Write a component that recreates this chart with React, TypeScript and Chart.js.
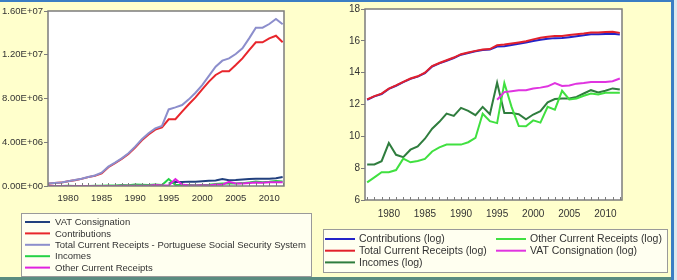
import React, { useEffect, useRef } from "react";
import { Chart, registerables } from "chart.js";

Chart.register(...registerables);

// Observation years (annual data)
const YEARS = [
  1977, 1978, 1979, 1980, 1981, 1982, 1983, 1984, 1985, 1986,
  1987, 1988, 1989, 1990, 1991, 1992, 1993, 1994, 1995, 1996,
  1997, 1998, 1999, 2000, 2001, 2002, 2003, 2004, 2005, 2006,
  2007, 2008, 2009, 2010, 2011, 2012,
];
const X_TICKS = [1980, 1985, 1990, 1995, 2000, 2005, 2010];

// Levels (left panel)
const LEVEL_VAT = [
  null, null, null, null, null, null, null, null, null, null,
  null, null, null, null, null, null, null, null, 220000, 355000,
  370000, 400000, 400000, 440000, 470000, 510000, 630000, 520000, 540000, 600000,
  630000, 670000, 670000, 670000, 700000, 830000,
];
const LEVEL_CONTRIB = [
  210000, 270000, 310000, 430000, 530000, 650000, 810000, 930000, 1160000, 1720000,
  2080000, 2480000, 2930000, 3520000, 4180000, 4720000, 5150000, 5350000, 6100000, 6100000,
  6800000, 7470000, 8100000, 8840000, 9540000, 10150000, 10500000, 10500000, 11060000, 11670000,
  12430000, 13140000, 13140000, 13500000, 13740000, 13140000,
];
const LEVEL_TOTAL = [
  220000, 280000, 320000, 440000, 540000, 670000, 830000, 960000, 1220000, 1770000,
  2130000, 2530000, 2990000, 3600000, 4270000, 4820000, 5270000, 5490000, 7000000, 7190000,
  7400000, 7920000, 8530000, 9230000, 10060000, 10900000, 11460000, 11670000, 12070000, 12590000,
  13500000, 14480000, 14480000, 14810000, 15270000, 14780000,
];
const LEVEL_INCOMES = [
  3750, 3750, 4630, 14500, 6900, 5940, 9500, 11750, 19000, 35600,
  54800, 92000, 79000, 132000, 109000, 83500, 140000, 88500, 640000, 96000,
  96000, 88500, 64000, 87000, 107000, 185000, 228000, 238000, 238000, 263000,
  325000, 400000, 348000, 385000, 446000, 416000,
];
const LEVEL_OTHER = [
  1224, 1670, 2300, 2300, 2640, 5430, 4320, 4680, 5320, 8500,
  11000, 13100, 13100, 13100, 15200, 20000, 91000, 57000, 50500, 628000,
  140000, 42000, 41000, 60000, 52000, 140000, 118000, 385000, 224000, 238000,
  282000, 325000, 306000, 341000, 341000, 341000,
];

// Natural logs (right panel)
const LOG_CONTRIB = [
  12.30, 12.51, 12.66, 12.98, 13.18, 13.40, 13.61, 13.75, 13.97, 14.39,
  14.58, 14.75, 14.92, 15.13, 15.24, 15.34, 15.43, 15.45, 15.64, 15.66,
  15.74, 15.82, 15.90, 15.99, 16.07, 16.13, 16.17, 16.18, 16.23, 16.29,
  16.35, 16.41, 16.41, 16.43, 16.45, 16.40,
];
const LOG_TOTAL = [
  12.32, 12.53, 12.68, 13.0, 13.2, 13.42, 13.63, 13.77, 14.0, 14.42,
  14.61, 14.78, 14.95, 15.16, 15.27, 15.37, 15.46, 15.48, 15.73, 15.77,
  15.83, 15.9, 15.98, 16.09, 16.19, 16.25, 16.3, 16.3, 16.36, 16.42,
  16.46, 16.53, 16.53, 16.55, 16.57, 16.5,
];
const LOG_INCOMES = [
  8.23, 8.23, 8.44, 9.58, 8.84, 8.69, 9.16, 9.37, 9.85, 10.48,
  10.91, 11.43, 11.28, 11.79, 11.6, 11.33, 11.85, 11.39, 13.37, 11.47,
  11.47, 11.39, 11.07, 11.37, 11.58, 12.13, 12.34, 12.38, 12.38, 12.48,
  12.69, 12.9, 12.76, 12.86, 13.01, 12.94,
];
const LOG_OTHER = [
  7.11, 7.42, 7.74, 7.74, 7.88, 8.6, 8.37, 8.45, 8.58, 9.05,
  9.31, 9.48, 9.48, 9.48, 9.63, 9.9, 11.42, 10.95, 10.83, 13.35,
  11.85, 10.65, 10.63, 11.0, 10.86, 11.85, 11.68, 12.86, 12.32, 12.38,
  12.55, 12.69, 12.63, 12.74, 12.74, 12.74,
];
const LOG_VAT = [
  null, null, null, null, null, null, null, null, null, null,
  null, null, null, null, null, null, null, null, 12.3, 12.78,
  12.83, 12.89, 12.89, 13.0, 13.06, 13.14, 13.35, 13.16, 13.2, 13.31,
  13.35, 13.42, 13.42, 13.42, 13.46, 13.63,
];

const LEVEL_Y_TICKS = [0, 4000000, 8000000, 12000000, 16000000];
const LOG_Y_TICKS = [6, 8, 10, 12, 14, 16, 18];

const PAGE_BG = "#FFFFCC";
const FONT = "'Liberation Sans', Arial, sans-serif";
const TEXT = "#333333";

type Series = { label: string; values: (number | null)[]; color: string };

const LEVEL_SERIES: Series[] = [
  { label: "VAT Consignation", values: LEVEL_VAT, color: "#22407E" },
  { label: "Contributions", values: LEVEL_CONTRIB, color: "#E8262C" },
  { label: "Total Current Receipts - Portuguese Social Security System", values: LEVEL_TOTAL, color: "#8C8ECC" },
  { label: "Incomes", values: LEVEL_INCOMES, color: "#24D246" },
  { label: "Other Current Receipts", values: LEVEL_OTHER, color: "#E022E0" },
];

const LOG_SERIES: Series[] = [
  { label: "Contributions (log)", values: LOG_CONTRIB, color: "#2424C8" },
  { label: "Total Current Receipts (log)", values: LOG_TOTAL, color: "#E2202C" },
  { label: "Incomes (log)", values: LOG_INCOMES, color: "#2F7D3E" },
  { label: "Other Current Receipts (log)", values: LOG_OTHER, color: "#40E040" },
  { label: "VAT Consignation (log)", values: LOG_VAT, color: "#E034E0" },
];

function sci(v: number): string {
  if (v === 0) return "0.00E+00";
  const e = Math.floor(Math.log10(Math.abs(v)));
  const m = v / Math.pow(10, e);
  return `${m.toFixed(2)}E+${String(e).padStart(2, "0")}`;
}

// White plot area, grey frame and yearly tick marks on the date axis
const plotFrame = {
  id: "plotFrame",
  beforeDraw(chart: any) {
    const { ctx, chartArea: a } = chart;
    ctx.save();
    ctx.fillStyle = "#ffffff";
    ctx.fillRect(a.left, a.top, a.right - a.left, a.bottom - a.top);
    ctx.restore();
  },
  afterDatasetsDraw(chart: any) {
    const { ctx, chartArea: a } = chart;
    const xs = chart.scales.x;
    ctx.save();
    ctx.strokeStyle = "#7c7c7c";
    ctx.lineWidth = 1.5;
    ctx.strokeRect(a.left, a.top, a.right - a.left, a.bottom - a.top);
    ctx.lineWidth = 1;
    ctx.beginPath();
    for (const yr of YEARS) {
      const px = Math.round(xs.getPixelForValue(yr)) + 0.5;
      if (px < a.left || px > a.right) continue;
      ctx.moveTo(px, a.bottom);
      ctx.lineTo(px, a.bottom - 3);
    }
    ctx.stroke();
    ctx.restore();
  },
};

// Boxed legend under the plot, entries filled column by column
const boxLegend = {
  id: "boxLegend",
  afterDraw(chart: any, _args: any, o: any) {
    if (!o || !o.box) return;
    const ctx = chart.ctx;
    const [bx, by, bw, bh] = o.box;
    ctx.save();
    ctx.fillStyle = o.fill;
    ctx.fillRect(bx, by, bw, bh);
    ctx.strokeStyle = o.border;
    ctx.lineWidth = 1;
    ctx.strokeRect(bx + 0.5, by + 0.5, bw, bh);
    ctx.font = o.font;
    ctx.textBaseline = "middle";
    chart.data.datasets.forEach((ds: any, i: number) => {
      const col = Math.floor(i / o.perCol);
      const row = i % o.perCol;
      const x = o.colX[col];
      const y = o.rowY0 + row * o.rowH;
      ctx.strokeStyle = ds.borderColor;
      ctx.lineWidth = 2;
      ctx.beginPath();
      ctx.moveTo(x, y);
      ctx.lineTo(x + o.lineLen, y);
      ctx.stroke();
      ctx.fillStyle = TEXT;
      ctx.fillText(ds.label, x + o.lineLen + o.textGap, y + 0.5);
    });
    ctx.restore();
  },
};

type PanelProps = {
  left: number;
  width: number;
  series: Series[];
  yMin: number;
  yMax: number;
  yTicks: number[];
  yFormat: (v: number) => string;
  xMin: number;
  xMax: number;
  xPad: number;
  yAxisWidth: number;
  padding: { left: number; top: number; right: number; bottom: number };
  fontSize: number;
  legend: any;
};

function Panel(p: PanelProps) {
  const ref = useRef<HTMLCanvasElement>(null);
  useEffect(() => {
    if (!ref.current) return;
    const n = p.series.length;
    const chart = new Chart(ref.current, {
      type: "line",
      data: {
        datasets: p.series.map((s, i) => ({
          label: s.label,
          data: YEARS.map((yr, j) => ({ x: yr, y: s.values[j] })),
          borderColor: s.color,
          backgroundColor: s.color,
          borderWidth: 2,
          pointRadius: 0,
          tension: 0,
          spanGaps: false,
          order: n - i,
        })),
      },
      options: {
        animation: false,
        responsive: false,
        maintainAspectRatio: false,
        layout: { padding: p.padding },
        plugins: {
          legend: { display: false },
          tooltip: { enabled: false },
          boxLegend: p.legend,
        } as any,
        scales: {
          x: {
            type: "linear",
            min: p.xMin,
            max: p.xMax,
            afterBuildTicks: (s: any) => {
              s.ticks = X_TICKS.map((v) => ({ value: v }));
            },
            afterFit: (s: any) => {
              s.height = 20;
            },
            grid: { display: false },
            border: { display: false },
            ticks: {
              autoSkip: false,
              maxRotation: 0,
              padding: p.xPad,
              color: TEXT,
              font: { family: FONT, size: p.fontSize },
              callback: (v: any) => String(v),
            },
          },
          y: {
            type: "linear",
            min: p.yMin,
            max: p.yMax,
            afterBuildTicks: (s: any) => {
              s.ticks = p.yTicks.map((v) => ({ value: v }));
            },
            afterFit: (s: any) => {
              s.width = p.yAxisWidth;
            },
            grid: {
              display: true,
              drawOnChartArea: false,
              drawTicks: true,
              tickLength: 4,
              color: "#7c7c7c",
            },
            border: { display: false },
            ticks: {
              padding: 1,
              color: TEXT,
              font: { family: FONT, size: p.fontSize },
              callback: (v: any) => p.yFormat(Number(v)),
            },
          },
        },
      },
      plugins: [plotFrame, boxLegend],
    });
    return () => chart.destroy();
  }, []);
  return (
    <canvas
      ref={ref}
      width={p.width}
      height={280}
      style={{ position: "absolute", left: p.left, top: 0, width: p.width, height: 280 }}
    />
  );
}

export default function App() {
  return (
    <div
      style={{
        position: "absolute",
        left: 0,
        top: 0,
        width: 677,
        height: 280,
        background: PAGE_BG,
        overflow: "hidden",
      }}
    >
      <Panel
        left={0}
        width={320}
        series={LEVEL_SERIES}
        yMin={0}
        yMax={16000000}
        yTicks={LEVEL_Y_TICKS}
        yFormat={sci}
        xMin={1977}
        xMax={2012.2}
        xPad={-1}
        yAxisWidth={48}
        padding={{ left: 0, top: 11, right: 36, bottom: 74 }}
        fontSize={9.5}
        legend={{
          box: [21, 213, 290, 63],
          fill: "#FFFFF0",
          border: "#9a9a9a",
          font: `9.5px ${FONT}`,
          colX: [25],
          lineLen: 25,
          textGap: 5,
          rowY0: 222,
          rowH: 11.4,
          perCol: 5,
        }}
      />
      <Panel
        left={320}
        width={351}
        series={LOG_SERIES}
        yMin={6}
        yMax={18}
        yTicks={LOG_Y_TICKS}
        yFormat={(v) => String(v)}
        xMin={1976.7}
        xMax={2012.3}
        xPad={0}
        yAxisWidth={45}
        padding={{ left: 0, top: 9, right: 49, bottom: 60 }}
        fontSize={10}
        legend={{
          box: [3, 229, 344, 43],
          fill: "#FFFFF0",
          border: "#9a9a9a",
          font: `10.5px ${FONT}`,
          colX: [5, 176],
          lineLen: 30,
          textGap: 4,
          rowY0: 239,
          rowH: 11.7,
          perCol: 3,
        }}
      />
      <div style={{ position: "absolute", left: 0, top: 0, width: 677, height: 2, background: "#3B7EC4" }} />
      <div style={{ position: "absolute", left: 671, top: 0, width: 3, height: 280, background: "#3B7EC4" }} />
      <div style={{ position: "absolute", left: 674, top: 0, width: 3, height: 280, background: "#DCE8EE" }} />
      <div style={{ position: "absolute", left: 0, top: 277, width: 671, height: 3, background: "#5A8C80" }} />
    </div>
  );
}
